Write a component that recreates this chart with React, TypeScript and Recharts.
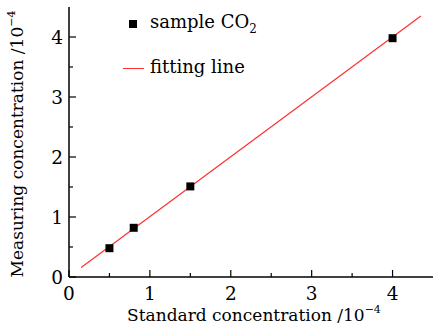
import { ComposedChart, Scatter, Line, XAxis, YAxis } from "recharts";

const standardConc = [0.5, 0.8, 1.5, 4.0];
const measuredConc = [0.48, 0.82, 1.51, 3.98];
const fitX = [0.15, 4.35];
const fitY = [0.16, 4.35];
const axisTicks = [0, 0.5, 1, 1.5, 2, 2.5, 3, 3.5, 4];

const samples = standardConc.map((x, i) => ({ x, y: measuredConc[i] }));
const fitLine = fitX.map((x, i) => ({ x, y: fitY[i] }));

const FONT = "'DejaVu Serif', serif";
const RED = "#ff3030";

function YTick(props: any) {
  const { x, y, payload } = props;
  const major = Number.isInteger(payload.value);
  return (
    <g>
      <line x1={x} y1={y} x2={x + (major ? 7 : 4)} y2={y} stroke="#000" strokeWidth={1.2} />
      {major && (
        <text x={x - 6} y={y + 7} textAnchor="end" fontFamily={FONT} fontSize={18.5} fill="#000">
          {payload.value}
        </text>
      )}
    </g>
  );
}

function XTick(props: any) {
  const { x, y, payload } = props;
  const major = Number.isInteger(payload.value);
  return (
    <g>
      <line x1={x} y1={y} x2={x} y2={y - (major ? 7 : 4)} stroke="#000" strokeWidth={1.2} />
      {major && (
        <text x={x} y={y + 23} textAnchor="middle" fontFamily={FONT} fontSize={18.5} fill="#000">
          {payload.value}
        </text>
      )}
    </g>
  );
}

function LegendBox() {
  const text = { fontFamily: FONT, fontSize: 18, color: "#000", lineHeight: "20px", whiteSpace: "nowrap" as const };
  return (
    <div style={{ position: "absolute", left: 123, top: 4, width: 220, height: 80 }}>
      <div style={{ position: "absolute", left: 6, top: 16, width: 8, height: 8, background: "#000" }} />
      <div style={{ position: "absolute", left: 27, top: 8, ...text }}>
        sample CO<sub style={{ fontSize: 12, lineHeight: 0 }}>2</sub>
      </div>
      <div style={{ position: "absolute", left: 0, top: 64, width: 21, height: 1, background: RED }} />
      <div style={{ position: "absolute", left: 27, top: 53, ...text }}>fitting line</div>
    </div>
  );
}

export default function App() {
  return (
    <div style={{ position: "absolute", left: 0, top: 0, width: 433, height: 328, background: "#fff" }}>
      <ComposedChart width={433} height={328} margin={{ top: 7, right: 0, bottom: 0, left: 0 }}>
        <XAxis
          type="number"
          dataKey="x"
          domain={[0, 4.5]}
          ticks={axisTicks}
          height={51}
          tickSize={0}
          tickMargin={0}
          tickLine={false}
          tick={<XTick />}
          axisLine={{ stroke: "#000", strokeWidth: 1.5 }}
          interval={0}
        />
        <YAxis
          type="number"
          dataKey="y"
          domain={[0, 4.5]}
          ticks={axisTicks}
          width={69}
          tickSize={0}
          tickMargin={0}
          tickLine={false}
          tick={<YTick />}
          axisLine={{ stroke: "#000", strokeWidth: 1.5 }}
          interval={0}
        />
        <Line
          data={fitLine}
          dataKey="y"
          stroke={RED}
          strokeWidth={1.2}
          dot={false}
          isAnimationActive={false}
        />
        <Scatter data={samples} dataKey="y" fill="#000" shape="square" isAnimationActive={false} />
        <text x={254} y={321} textAnchor="middle" fontFamily={FONT} fontSize={17} fill="#000">
          Standard concentration /10
          <tspan dy={-8} fontSize={11}>−4</tspan>
        </text>
        <text
          x={0}
          y={0}
          transform="translate(23,144) rotate(-90)"
          textAnchor="middle"
          fontFamily={FONT}
          fontSize={17}
          fill="#000"
        >
          Measuring concentration /10
          <tspan dy={-8} fontSize={11}>−4</tspan>
        </text>
      </ComposedChart>
      <LegendBox />
    </div>
  );
}
